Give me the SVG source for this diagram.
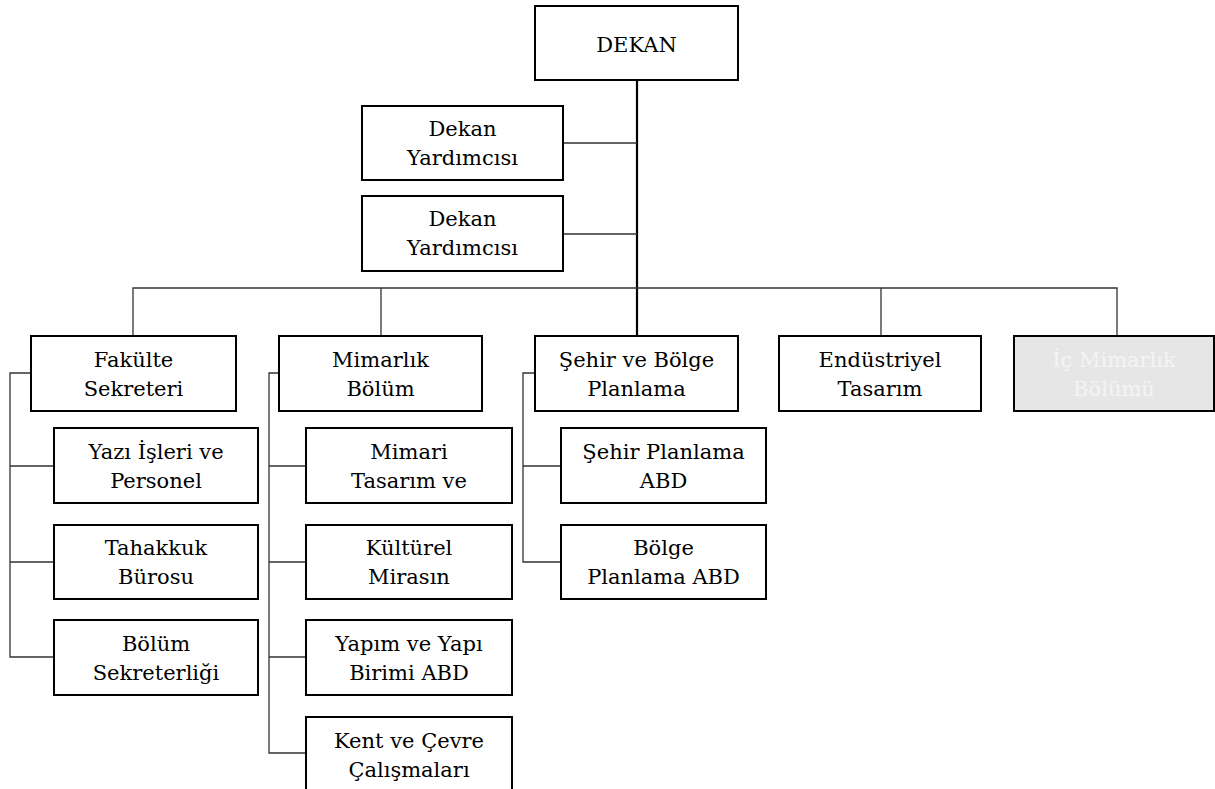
<svg xmlns="http://www.w3.org/2000/svg" width="1215" height="789" viewBox="0 0 1215 789">
<style>
.box{fill:#fff;stroke:#000;stroke-width:2}
.grey{fill:#e6e6e6;stroke:#000;stroke-width:2}
.t{font-family:"DejaVu Serif","Liberation Serif",serif;font-size:21px;fill:#000;text-anchor:middle}
.tw{font-family:"DejaVu Serif","Liberation Serif",serif;font-size:21px;fill:#f4f4f4;text-anchor:middle}
.c{fill:none;stroke:#333;stroke-width:1.3}
.main{fill:none;stroke:#000;stroke-width:2.2}
</style>
<rect width="1215" height="789" fill="#fff"/>
<g id="connectors">
<path class="main" d="M637 80V336"/>
<path class="c" d="M563 143H637M563 234H637"/>
<path class="c" d="M133 336V288H1117V336M381 288V336M881 288V336"/>
<path class="c" d="M31 373H10V657H54M10 466H54M10 562H54"/>
<path class="c" d="M279 373H269V753H306M269 466H306M269 562H306M269 657H306"/>
<path class="c" d="M535 373H523V562H561M523 466H561"/>
</g>
<g id="dekan"><rect class="box" x="535" y="6" width="203" height="74"/><text class="t" x="636.5" y="52">DEKAN</text></g>
<g id="yrd1"><rect class="box" x="362" y="106" width="201" height="74"/><text class="t" x="462.5" y="136">Dekan</text><text class="t" x="462.5" y="165">Yardımcısı</text></g>
<g id="yrd2"><rect class="box" x="362" y="196" width="201" height="75"/><text class="t" x="462.5" y="226">Dekan</text><text class="t" x="462.5" y="255">Yardımcısı</text></g>
<g id="fakulte"><rect class="box" x="31" y="336" width="205" height="75"/><text class="t" x="133.5" y="367">Fakülte</text><text class="t" x="133.5" y="396">Sekreteri</text></g>
<g id="mimarlik"><rect class="box" x="279" y="336" width="203" height="75"/><text class="t" x="380.5" y="367">Mimarlık</text><text class="t" x="380.5" y="396">Bölüm</text></g>
<g id="sehir"><rect class="box" x="535" y="336" width="203" height="75"/><text class="t" x="636.5" y="367">Şehir ve Bölge</text><text class="t" x="636.5" y="396">Planlama</text></g>
<g id="endustriyel"><rect class="box" x="779" y="336" width="202" height="75"/><text class="t" x="880" y="367">Endüstriyel</text><text class="t" x="880" y="396">Tasarım</text></g>
<g id="icmimarlik"><rect class="grey" x="1014" y="336" width="200" height="75"/><text class="tw" x="1114" y="367">İç Mimarlık</text><text class="tw" x="1114" y="396">Bölümü</text></g>
<g id="yazi"><rect class="box" x="54" y="428" width="204" height="75"/><text class="t" x="156" y="459">Yazı İşleri ve</text><text class="t" x="156" y="488">Personel</text></g>
<g id="tahakkuk"><rect class="box" x="54" y="525" width="204" height="74"/><text class="t" x="156" y="555">Tahakkuk</text><text class="t" x="156" y="584">Bürosu</text></g>
<g id="bolumsek"><rect class="box" x="54" y="620" width="204" height="75"/><text class="t" x="156" y="651">Bölüm</text><text class="t" x="156" y="680">Sekreterliği</text></g>
<g id="mimari"><rect class="box" x="306" y="428" width="206" height="75"/><text class="t" x="409" y="459">Mimari</text><text class="t" x="409" y="488">Tasarım ve</text></g>
<g id="kulturel"><rect class="box" x="306" y="525" width="206" height="74"/><text class="t" x="409" y="555">Kültürel</text><text class="t" x="409" y="584">Mirasın</text></g>
<g id="yapim"><rect class="box" x="306" y="620" width="206" height="75"/><text class="t" x="409" y="651">Yapım ve Yapı</text><text class="t" x="409" y="680">Birimi ABD</text></g>
<g id="kent"><rect class="box" x="306" y="717" width="206" height="80"/><text class="t" x="409" y="748">Kent ve Çevre</text><text class="t" x="409" y="777">Çalışmaları</text></g>
<g id="sehirplan"><rect class="box" x="561" y="428" width="205" height="75"/><text class="t" x="663.5" y="459">Şehir Planlama</text><text class="t" x="663.5" y="488">ABD</text></g>
<g id="bolgeplan"><rect class="box" x="561" y="525" width="205" height="74"/><text class="t" x="663.5" y="555">Bölge</text><text class="t" x="663.5" y="584">Planlama ABD</text></g>
</svg>
